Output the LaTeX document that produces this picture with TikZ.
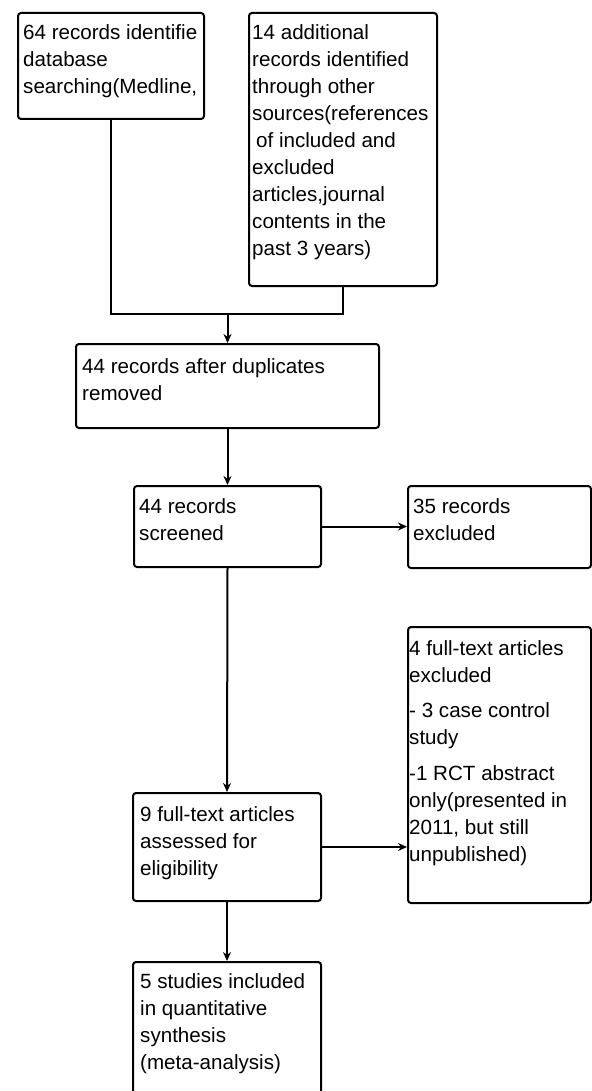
\documentclass[tikz,border=0pt]{standalone}
\usepackage{fontspec}
\setmainfont{Liberation Sans}
\usetikzlibrary{arrows.meta,calc}
\begin{document}
\begin{tikzpicture}[x=1pt,y=-1pt,
  box/.style={draw,line width=2pt,rounded corners=3pt,inner sep=0pt,anchor=north west},
  txt/.style={anchor=north west,inner sep=0pt,align=left,font=\fontsize{20.6}{27}\selectfont},
  link/.style={line width=2pt},
  flow/.style={line width=2pt,-{Stealth[length=9pt,width=8pt]}}]
\useasboundingbox (0,0) rectangle (591,1091);

% boxes
\node[box,minimum width=186pt,minimum height=106pt] (b1) at (17,12) {};
\node[box,minimum width=188pt,minimum height=273pt] (b2) at (248,12) {};
\node[box,minimum width=303pt,minimum height=84pt]  (b3) at (75,343) {};
\node[box,minimum width=187pt,minimum height=81pt]  (b4) at (133,485) {};
\node[box,minimum width=183pt,minimum height=82pt]  (b5) at (407,485) {};
\node[box,minimum width=183pt,minimum height=276pt] (b6) at (407,626) {};
\node[box,minimum width=188pt,minimum height=108pt] (b7) at (132,792) {};
\node[box,minimum width=188pt,minimum height=140pt] (b8) at (132,961) {};

% texts: the strut puts every first baseline 18.9pt below the node top
\node[txt] (t1) at ($(b1.north west)+(6,8)$) {\strut 64 records identifie\\database\\searching(Medline,};
\begin{scope}
  \clip (b2.north west) rectangle (b2.south east);
  \node[txt] (t2) at ($(b2.north west)+(4,8)$) {\strut 14 additional\\records identified\\through other\\sources(references\\\hspace*{4pt}of included and\\excluded\\articles,journal\\contents in the\\past 3 years)};
\end{scope}
\node[txt] (t3) at ($(b3.north west)+(7,11)$) {\strut 44 records after duplicates\\removed};
\node[txt] (t4) at ($(b4.north west)+(6,9)$) {\strut 44 records\\screened};
\node[txt] (t5) at ($(b5.north west)+(6,9)$) {\strut 35 records\\excluded};
\node[txt] (t6) at ($(b6.north west)+(2,10)$) {\strut 4 full-text articles\\excluded\\[8pt]- 3 case control\\study\\[9pt]-1 RCT abstract\\only(presented in\\2011, but still\\unpublished)};
\node[txt] (t7) at ($(b7.north west)+(8,10)$) {\strut 9 full-text articles\\assessed for\\eligibility};
\node[txt] (t8) at ($(b8.north west)+(8,8)$) {\strut 5 studies included\\in quantitative\\synthesis\\(meta-analysis)};

% connectors
\path (b3.north) ++(0,-29) coordinate (m);
\draw[link] (b1.south) |- (m) -| (b2.south);
\draw[flow] (m) -- (b3.north);
\draw[flow] (b3.south) -- (b4.north);
\draw[flow] (b4.east) -- (b4.east -| b5.west);
\draw[flow] (b4.south) -- (b7.north);
\draw[flow] (b7.east) -- (b7.east -| b6.west);
\draw[flow] (b7.south) -- (b8.north);
\end{tikzpicture}
\end{document}
